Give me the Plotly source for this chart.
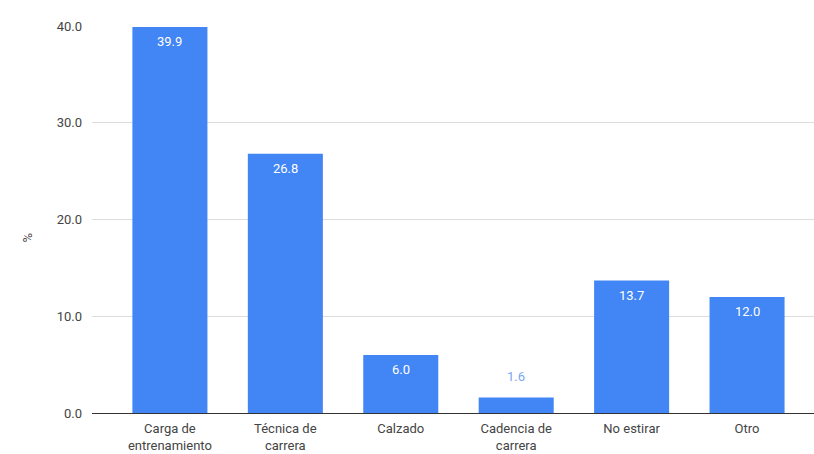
import plotly.graph_objects as go

categories = ["Carga de<br>entrenamiento", "Técnica de<br>carrera", "Calzado",
              "Cadencia de<br>carrera", "No estirar", "Otro"]
values = [39.9, 26.8, 6.0, 1.6, 13.7, 12.0]
y_ticks = [0, 10, 20, 30, 40]
y_tick_labels = ["0.0", "10.0", "20.0", "30.0", "40.0"]

BAR = "#4285F4"
FONT = "Roboto, Arial, sans-serif"

fig = go.Figure(go.Bar(
    x=categories, y=values,
    marker=dict(color=BAR, line=dict(width=0)),
    hoverinfo="x+y",
))

# value labels: inside near the top of tall bars, above short bars
for c, v in zip(categories, values):
    inside = v > 3
    fig.add_annotation(
        x=c, y=v, xref="x", yref="y",
        text=f"{v:.1f}", showarrow=False,
        yanchor="middle", yshift=-15 if inside else 21,
        font=dict(family=FONT, size=13, color="#ffffff" if inside else "#7aa6f2"),
    )

fig.add_annotation(
    x=-0.1025, y=0.455, xref="paper", yref="paper",
    text="%", showarrow=False, textangle=-90,
    font=dict(family=FONT, size=13, color="#444444"),
)

fig.update_layout(
    width=814, height=454,
    margin=dict(l=92, r=0, t=26, b=41),
    paper_bgcolor="white", plot_bgcolor="white",
    bargap=0.35,
    showlegend=False,
    font=dict(family=FONT, size=13, color="#444444"),
    xaxis=dict(range=[-0.675, 5.58], showgrid=False, ticks="", showline=False,
               ticklabelstandoff=6,
               tickfont=dict(size=13, color="#444444")),
    yaxis=dict(range=[0, 40], tickvals=y_ticks, ticktext=y_tick_labels,
               showgrid=True, gridcolor="#dddddd", gridwidth=1,
               zeroline=True, zerolinecolor="#333333", zerolinewidth=1,
               ticks="", ticklabelstandoff=9,
               tickfont=dict(size=13, color="#444444")),
)

fig.write_html("out.html")
